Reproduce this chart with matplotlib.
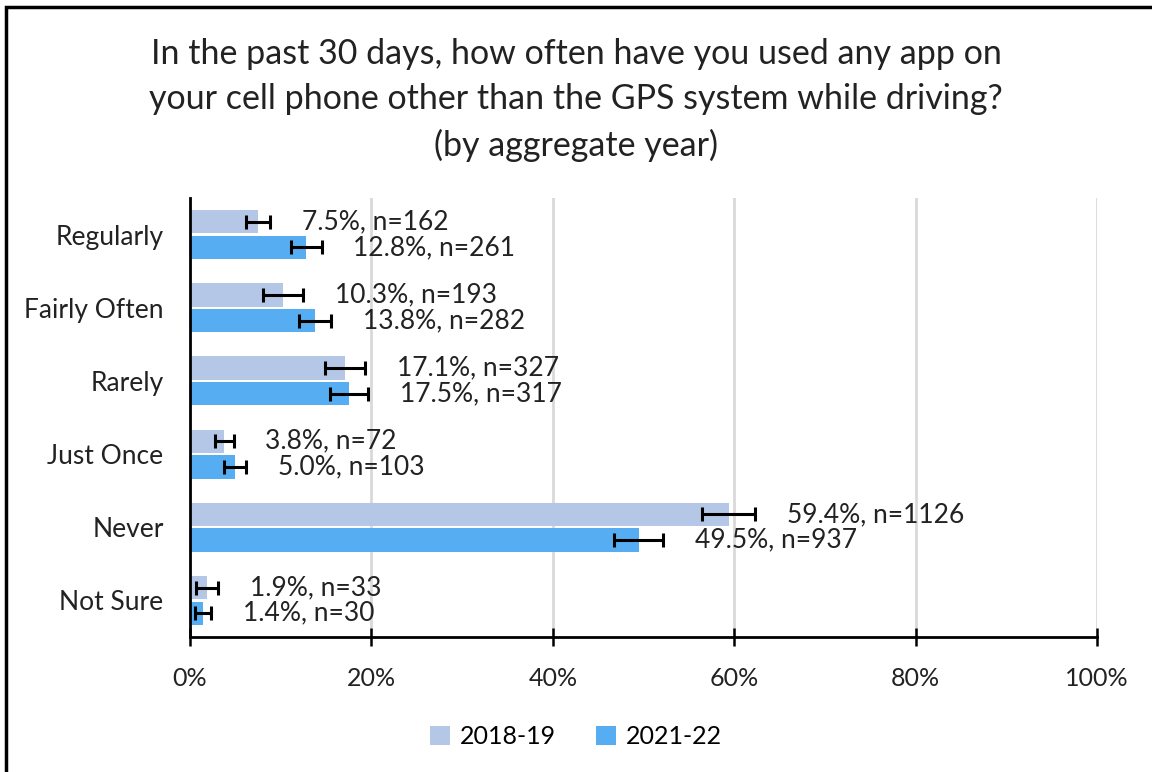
import numpy as np
import matplotlib.pyplot as plt
from matplotlib.patches import Rectangle
from matplotlib.ticker import PercentFormatter

plt.rcParams['font.family'] = ['Lato', 'DejaVu Sans']

categorias = ['Regularly', 'Fairly Often', 'Rarely', 'Just Once', 'Never', 'Not Sure']
anos = ['2018-19', '2021-22']

pct_1819 = [7.5, 10.3, 17.1, 3.8, 59.4, 1.9]
n_1819 = [162, 193, 327, 72, 1126, 33]
err_1819 = [1.3, 2.2, 2.2, 1.0, 2.9, 1.2]

pct_2122 = [12.8, 13.8, 17.5, 5.0, 49.5, 1.4]
n_2122 = [261, 282, 317, 103, 937, 30]
err_2122 = [1.7, 1.8, 2.1, 1.2, 2.7, 0.9]

cores = ['#B4C7E7', '#56ADF1']

fig = plt.figure(figsize=(11.52, 7.72), dpi=100)
ax = fig.add_axes([190/1152, 1 - 637/772, (1097 - 190)/1152, (637 - 198)/772])

y = np.arange(len(categorias))
h = 0.32
off = 0.175

series = [(pct_1819, n_1819, err_1819, -off), (pct_2122, n_2122, err_2122, off)]
for i, (pct, n, err, d) in enumerate(series):
    ax.barh(y + d, pct, height=h, color=cores[i], label=anos[i], zorder=2)
    ax.errorbar(pct, y + d, xerr=err, fmt='none', ecolor='black',
                elinewidth=2.2, capsize=5, capthick=2.2, zorder=3)
    for k in range(len(pct)):
        ax.annotate(f'{pct[k]:.1f}%, n={n[k]}', xy=(pct[k] + err[k], y[k] + d),
                    xytext=(23, 0), textcoords='offset points',
                    ha='left', va='center', fontsize=19, color='#222222')

ax.set_xlim(0, 100)
ax.set_ylim(len(categorias) - 0.5, -0.5)
ax.set_yticks(y)
ax.set_yticklabels(categorias, fontsize=19, color='#222222')
ax.set_xticks(np.arange(0, 101, 20))
ax.xaxis.set_major_formatter(PercentFormatter(decimals=0))
ax.tick_params(axis='x', direction='inout', length=13, width=1.8, labelsize=18,
               pad=15, labelcolor='#222222')
ax.tick_params(axis='y', length=0, pad=19)
ax.grid(axis='x', color='#D9D9D9', linewidth=2, zorder=0)
ax.set_axisbelow(True)
for s in ['top', 'right']:
    ax.spines[s].set_visible(False)
for s in ['left', 'bottom']:
    ax.spines[s].set_linewidth(2)
    ax.spines[s].set_color('black')

fig.text(0.5, 1 - 100/772,
         'In the past 30 days, how often have you used any app on\n'
         'your cell phone other than the GPS system while driving?\n'
         '(by aggregate year)',
         ha='center', va='center', fontsize=24.5, linespacing=1.52, color='#222222')

fig.legend(loc='center', bbox_to_anchor=(0.5, 1 - 737/772), ncol=2, frameon=False,
           fontsize=18, handlelength=0.8, handleheight=0.8, handletextpad=0.4,
           columnspacing=1.6)

fig.patches.append(Rectangle((6/1152, -0.05), 1.2, 1 - 7/772 + 0.05,
                             transform=fig.transFigure, fill=False,
                             edgecolor='black', linewidth=2.5))

fig.savefig('out.png', dpi=100)
